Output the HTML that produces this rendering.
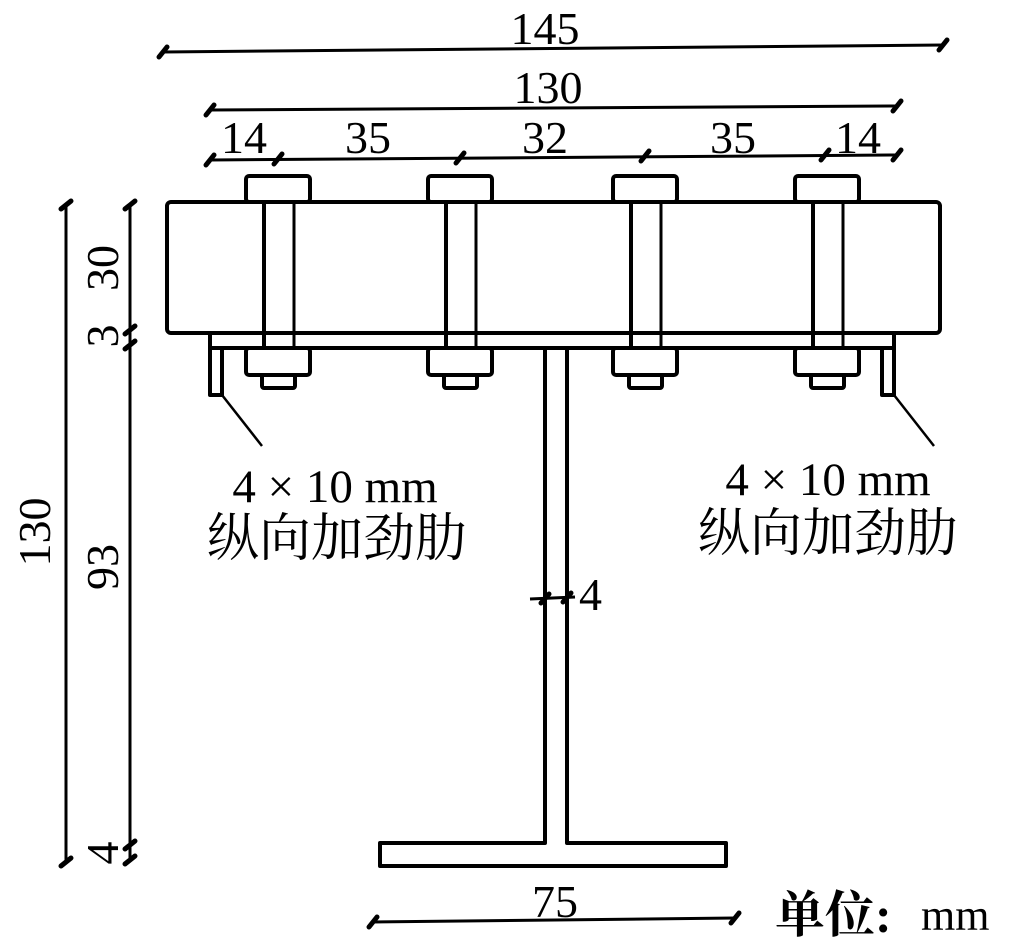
<!DOCTYPE html>
<html><head><style>
html,body{margin:0;padding:0;background:#fff;}
svg{display:block;}
text{font-family:"Liberation Serif","Noto Serif CJK SC",serif;fill:#000;}
</style></head><body>
<svg width="1024" height="944" viewBox="0 0 1024 944">
<g fill="none" stroke="#000" stroke-width="4" stroke-linejoin="round">
<rect x="167" y="202" width="773" height="131" rx="4"/>
<line x1="210" y1="348" x2="894" y2="348"/>
<path d="M210 333 V395 H222 V348"/>
<path d="M894 333 V395 H882 V348"/>
<line x1="222" y1="395" x2="262" y2="446" stroke-width="2.5"/>
<line x1="894" y1="395" x2="934" y2="446" stroke-width="2.5"/>
<path d="M545 348 V843 H380 V866 H726 V843 H567 V348"/>
</g>
<g fill="#fff" stroke="#000" stroke-width="4" stroke-linejoin="round">
<g id="b1">
<rect x="246" y="176" width="64" height="26" rx="3"/>
<line x1="264" y1="202" x2="264" y2="348"/>
<line x1="294" y1="202" x2="294" y2="348" stroke-width="3"/>
<rect x="246" y="348" width="64" height="27" rx="3"/>
<rect x="262" y="375" width="33" height="13" rx="2"/>
</g>
<use href="#b1" x="182"/>
<use href="#b1" x="367"/>
<use href="#b1" x="549"/>
</g>
<g stroke="#000" stroke-width="3" fill="none">
<line x1="163" y1="52" x2="943" y2="45"/>
<line x1="210" y1="110" x2="897" y2="106"/>
<line x1="210" y1="160" x2="897" y2="155"/>
<line x1="66" y1="205" x2="66" y2="862"/>
<line x1="130" y1="205" x2="130" y2="862"/>
<line x1="530" y1="599" x2="575" y2="597"/>
<line x1="373" y1="922" x2="735" y2="918"/>
</g>
<g stroke="#000" stroke-width="5" stroke-linecap="round">
<line x1="159" y1="57" x2="167" y2="47"/>
<line x1="939" y1="50" x2="947" y2="40"/>
<line x1="206" y1="115" x2="214" y2="105"/>
<line x1="893" y1="111" x2="901" y2="101"/>
<line x1="206" y1="165" x2="214" y2="155"/>
<line x1="274" y1="164" x2="282" y2="154"/>
<line x1="456" y1="163" x2="464" y2="153"/>
<line x1="641" y1="161" x2="649" y2="151"/>
<line x1="821" y1="160" x2="829" y2="150"/>
<line x1="893" y1="160" x2="901" y2="150"/>
<line x1="61" y1="209" x2="71" y2="201"/>
<line x1="61" y1="866" x2="71" y2="858"/>
<line x1="125" y1="209" x2="135" y2="201"/>
<line x1="125" y1="334" x2="135" y2="326"/>
<line x1="125" y1="349" x2="135" y2="341"/>
<line x1="125" y1="849" x2="135" y2="841"/>
<line x1="125" y1="864" x2="135" y2="856"/>
<line x1="541" y1="603" x2="549" y2="594"/>
<line x1="563" y1="602" x2="571" y2="593"/>
<line x1="369" y1="927" x2="377" y2="917"/>
<line x1="731" y1="923" x2="739" y2="913"/>
</g>
<g font-size="46">
<text x="545" y="44" text-anchor="middle">145</text>
<text x="548" y="103" text-anchor="middle">130</text>
<text x="244" y="153" text-anchor="middle">14</text>
<text x="368" y="153" text-anchor="middle">35</text>
<text x="545" y="153" text-anchor="middle">32</text>
<text x="733" y="153" text-anchor="middle">35</text>
<text x="858" y="153" text-anchor="middle">14</text>
<text x="579" y="610">4</text>
<text x="555" y="917" text-anchor="middle">75</text>
<text x="335" y="502" text-anchor="middle" font-size="47">4 × 10 mm</text>
<text x="828" y="495" text-anchor="middle" font-size="47">4 × 10 mm</text>
<text x="337" y="556" text-anchor="middle" font-size="52" font-family="Noto Serif CJK SC, serif">纵向加劲肋</text>
<text x="828" y="551" text-anchor="middle" font-size="52" font-family="Noto Serif CJK SC, serif">纵向加劲肋</text>
<text x="775" y="932" font-size="50" font-weight="bold" font-family="Noto Serif CJK SC, serif">单位:</text>
<text x="921" y="930" font-size="44">mm</text>
<g transform="rotate(-90)">
<text x="-532" y="50" text-anchor="middle">130</text>
<text x="-567" y="118" text-anchor="middle">93</text>
<text x="-268" y="118" text-anchor="middle">30</text>
<text x="-336" y="118" text-anchor="middle">3</text>
<text x="-853" y="118" text-anchor="middle">4</text>
</g>
</g>
</svg>
</body></html>
